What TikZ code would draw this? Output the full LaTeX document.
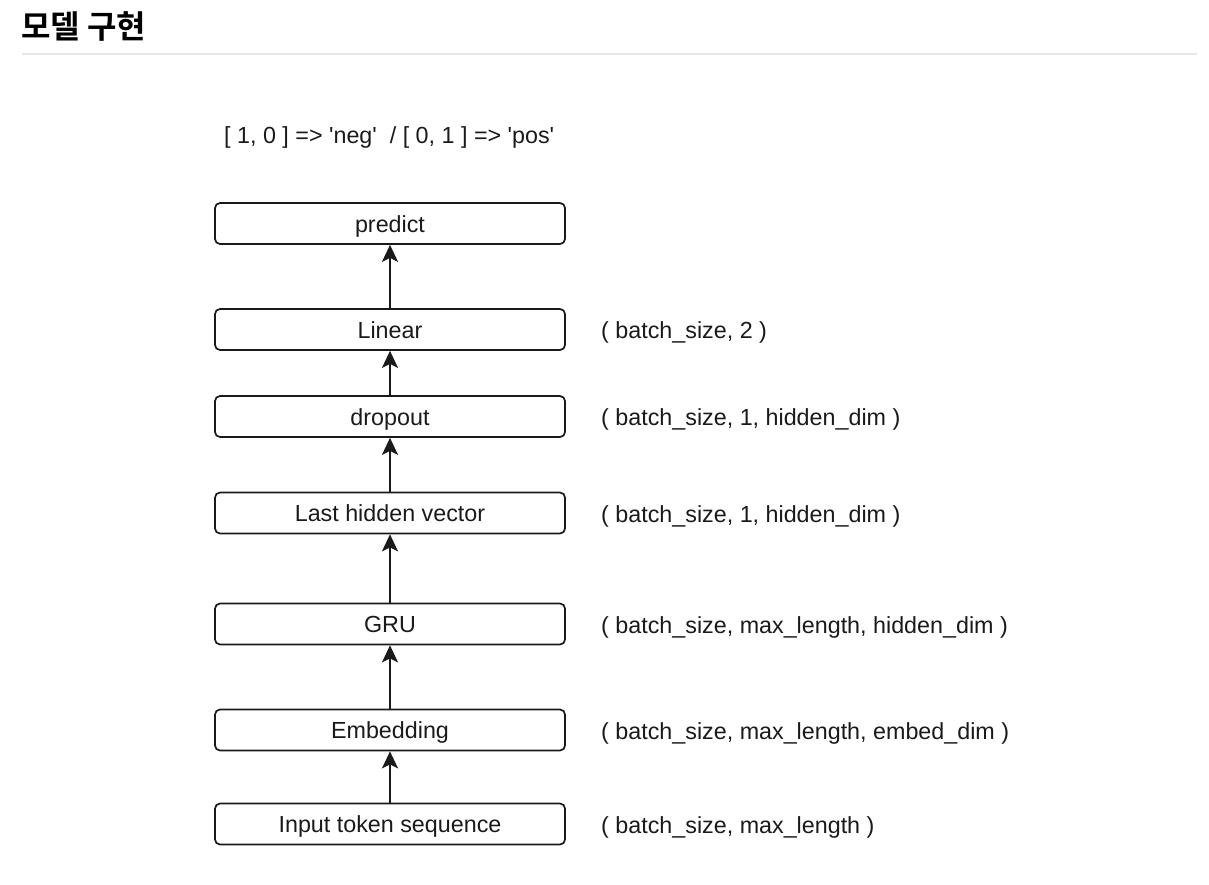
\documentclass[tikz,border=0pt]{standalone}
\usepackage{fontspec}
\setmainfont{Liberation Sans}
\newfontfamily\krfont{Noto Sans CJK KR}[BoldFont={* Bold}]
\usetikzlibrary{arrows.meta}
\definecolor{ink}{HTML}{1A1A1A}
\definecolor{rule}{HTML}{E6E6E6}
\newcommand{\sq}{\textquotesingle}
\tikzset{
  x=1pt, y=-1pt,
  layer/.style={draw=ink, line width=1.7pt, rounded corners=5pt,
    minimum width=350pt, minimum height=41pt, inner sep=0pt,
    text height=17pt, text depth=0pt,
    font=\fontsize{23.3}{27}\selectfont, text=ink},
  shape label/.style={anchor=west, inner sep=0pt,
    text height=17pt, text depth=0pt,
    font=\fontsize{23.3}{27}\selectfont, text=ink},
  flow/.style={draw=ink, line width=1.8pt,
    -{Stealth[length=17pt, width=16pt, inset=4pt]}},
}
\begin{document}
\begin{tikzpicture}
\useasboundingbox (0,0) rectangle (1209,884);
% heading and rule
\node[anchor=west, inner sep=0pt, font=\krfont\bfseries\fontsize{32}{36}\selectfont] (title) at (21,26) {모델 구현};
\draw[rule, line width=1.2pt] (22,54) -- (1197,54);
% output encoding note
\node[anchor=west, inner sep=0pt, text height=17pt, text depth=0pt,
  font=\fontsize{23.3}{27}\selectfont, text=ink] (note) at (224,135) {[ 1, 0 ] => \sq neg\sq\ \ / [ 0, 1 ] => \sq pos\sq};
% layers
\node[layer] (predict) at (390,223.5) {predict};
\node[layer] (linear) at (390,329.5) {Linear};
\node[layer] (dropout) at (390,416.5) {dropout};
\node[layer] (last) at (390,513) {Last hidden vector};
\node[layer] (gru) at (390,624) {GRU};
\node[layer] (embed) at (390,730) {Embedding};
\node[layer] (input) at (390,824) {Input token sequence};
% tensor shapes
\node[shape label] (s1) at (601,330) {( batch\_size, 2 )};
\node[shape label] (s2) at (601,417) {( batch\_size, 1, hidden\_dim )};
\node[shape label] (s3) at (601,514) {( batch\_size, 1, hidden\_dim )};
\node[shape label] (s4) at (601,625) {( batch\_size, max\_length, hidden\_dim )};
\node[shape label] (s5) at (601,731) {( batch\_size, max\_length, embed\_dim )};
\node[shape label] (s6) at (601,825) {( batch\_size, max\_length )};
% data flow
\draw[flow] (linear) -- (predict);
\draw[flow] (dropout) -- (linear);
\draw[flow] (last) -- (dropout);
\draw[flow] (gru) -- (last);
\draw[flow] (embed) -- (gru);
\draw[flow] (input) -- (embed);
\end{tikzpicture}
\end{document}
